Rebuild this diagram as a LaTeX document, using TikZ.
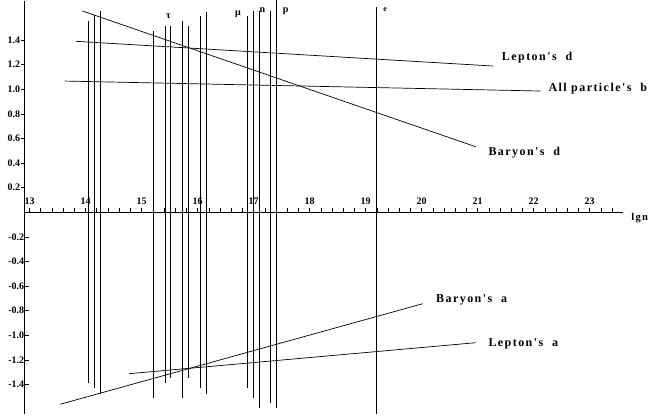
\documentclass[tikz,border=0pt]{standalone}
\usepackage{fontspec}
\setmainfont{Liberation Serif}
\newfontfamily\curvefont[LetterSpace=12]{Liberation Serif}

\begin{document}
\begin{tikzpicture}
	  [x=56pt, y=123pt,
	  %
	  axis/.style={draw, line width=0.8pt},
	  %
	  level/.style={draw, line width=0.8pt},
	  %
	  fitline/.style={draw, line width=0.7pt},
	  %
	  curvelabel/.style={anchor=west, inner sep=0pt, font=\curvefont\bfseries\fontsize{12}{13}\selectfont},
	  %
	  ticklabel/.style={inner sep=0pt, font=\bfseries\fontsize{10}{11}\selectfont},
	  %
	  partlabel/.style={inner sep=0pt, font=\bfseries\fontsize{10}{11}\selectfont}]

	    \useasboundingbox (12.470, -1.648) rectangle (24.237, 1.726);

	    % axes
	    \coordinate (origin) at (12.904, 0);
	    \coordinate (ytop) at (12.904, 1.718);
	    \coordinate (ybot) at (12.904, -1.640);
	    \coordinate (xend) at (23.595, 0);
	    \draw [axis] (ytop) -- (ybot);
	    \draw [axis] (origin) -- (xend);
	    \node [curvelabel, font=\curvefont\bfseries\fontsize{10.5}{11}\selectfont, anchor=center] (lgn) at (23.893, -0.046) {lgn};

	    \foreach \i in {0,...,52}
	      \draw [axis] ({13+\i/5}, 0) -- ++(0, 0.037);
	    \foreach \n in {13,...,23}
	      \node [ticklabel, anchor=south] (x\n) at (\n, 0.059) {\n};
	    \foreach \v [count=\k] in {0.2,0.4,0.6,0.8,1.0,1.2,1.4}
	      \draw [axis] (12.904, \v) -- ++(-0.066, 0) node [ticklabel, anchor=east] (ypos\k) {\v};
	    \foreach \v [count=\k] in {-0.2,-0.4,-0.6,-0.8,-1.0,-1.2,-1.4}
	      {\draw [axis] (12.904, \v) -- ++(0.089, 0);
	       \node [ticklabel, anchor=east] (yneg\k) at (12.904, \v) {\v};}

	    % particle levels
	    \foreach \ux/\hi/\lo in {14.046/1.558/-1.385, 14.154/1.604/-1.426, 14.261/1.637/-1.477,
	        15.202/1.474/-1.512, 15.421/1.517/-1.385, 15.511/1.517/-1.345,
	        15.725/1.555/-1.512, 15.832/1.517/-1.345, 16.046/1.598/-1.426,
	        16.154/1.628/-1.477, 16.886/1.598/-1.426, 16.993/1.637/-1.512,
	        17.100/1.637/-1.593, 17.296/1.637/-1.553, 17.404/1.726/-1.593,
	        19.196/1.669/-1.640}
	      \draw [level] (\ux, \lo) -- (\ux, \hi);

	    \node [partlabel] (tau) at (15.479, 1.592) {τ};
	    \node [partlabel] (mu) at (16.720, 1.612) {μ};
	    \node [partlabel] (neutron) at (17.154, 1.645) {n};
	    \node [partlabel] (proton) at (17.571, 1.633) {p};
	    \node [partlabel, font=\bfseries\fontsize{8}{9}\selectfont] (electron) at (19.345, 1.645) {e};

	    % fitted lines
	    \coordinate (leptond0) at (13.827, 1.390);
	    \coordinate (leptond1) at (21.279, 1.189);
	    \coordinate (allb0) at (13.630, 1.067);
	    \coordinate (allb1) at (22.125, 0.986);
	    \coordinate (baryond0) at (13.939, 1.637);
	    \coordinate (baryond1) at (20.964, 0.533);
	    \coordinate (baryona0) at (13.541, -1.561);
	    \coordinate (baryona1) at (20.018, -0.743);
	    \coordinate (leptona0) at (14.773, -1.312);
	    \coordinate (leptona1) at (20.964, -1.060);

	    \draw [fitline] (leptond0) -- (leptond1);
	    \draw [fitline] (allb0) -- (allb1);
	    \draw [fitline] (baryond0) -- (baryond1);
	    \draw [fitline] (baryona0) -- (baryona1);
	    \draw [fitline] (leptona0) -- (leptona1);

	    \node [curvelabel] (leptondlabel) at (21.429, 1.254) {Lepton's~ d};
	    \node [curvelabel] (allblabel) at (22.261, 1.002) {All particle's~ b};
	    \node [curvelabel] (baryondlabel) at (21.189, 0.482) {Baryon's~ d};
	    \node [curvelabel] (baryonalabel) at (20.255, -0.713) {Baryon's~ a};
	    \node [curvelabel] (leptonalabel) at (21.189, -1.071) {Lepton's~ a};
	  \end{tikzpicture}
\end{document}
